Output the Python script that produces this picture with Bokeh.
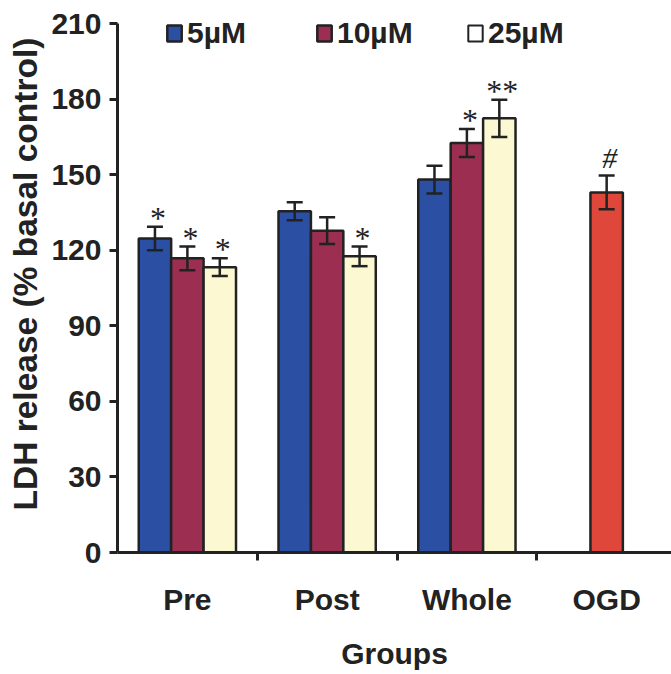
from bokeh.plotting import figure
from bokeh.models import (Range1d, FixedTicker, Whisker, TeeHead, ColumnDataSource,
                          Legend, LegendItem, Title)
from bokeh.core.properties import value
from bokeh.embed import file_html
from bokeh.resources import INLINE

# ---------------- data ----------------
categories = ["Pre", "Post", "Whole", "OGD"]
treated_groups = ["Pre", "Post", "Whole"]
conc_labels = ["5\u00b5M", "10\u00b5M", "25\u00b5M"]

ldh_5uM = [124.7, 135.5, 148.1]
ldh_10uM = [116.8, 127.8, 162.6]
ldh_25uM = [113.3, 117.6, 172.4]
sem_5uM = [4.7, 3.6, 5.5]
sem_10uM = [4.7, 5.3, 5.6]
sem_25uM = [3.5, 3.9, 7.4]
sig_5uM = ["*", "", ""]
sig_10uM = ["*", "", "*"]
sig_25uM = ["*", "*", "**"]

ogd_value = [143.0]
ogd_sem = [6.7]
ogd_sig = ["#"]

y_ticks = [0, 30, 60, 90, 120, 150, 180, 210]
y_title = "LDH release (% basal control)"
x_title = "Groups"

# ---------------- style ----------------
colors = ["#2b4fa3", "#9c2e52", "#fcf8d2"]
legend_colors = ["#2b4fa3", "#9c2e52", "#ffffff"]
ogd_color = "#e0473b"
ink = "#222222"
FONT = "Liberation Sans"
bar_w = 0.232
offsets = [-bar_w, 0.0, bar_w]

p = figure(width=671, height=674, output_backend="svg", toolbar_location=None,
           x_range=Range1d(0, 3.964), y_range=Range1d(0, 218),
           min_border_left=116, min_border_right=0, min_border_top=3,
           min_border_bottom=122)
p.outline_line_color = None
p.xgrid.visible = False
p.ygrid.visible = False
p.background_fill_color = "white"

series = [(ldh_5uM, sem_5uM, sig_5uM), (ldh_10uM, sem_10uM, sig_10uM),
          (ldh_25uM, sem_25uM, sig_25uM)]
bar_renderers = []
for k, (vals, errs, sig) in enumerate(series):
    xs = [categories.index(g) + 0.5 + offsets[k] for g in treated_groups]
    src = ColumnDataSource(dict(x=xs, top=vals,
                                upper=[v + e for v, e in zip(vals, errs)],
                                lower=[v - e for v, e in zip(vals, errs)],
                                sig=sig))
    r = p.vbar(x="x", top="top", bottom=0, width=bar_w, source=src,
               fill_color=colors[k], line_color=ink, line_width=2.5)
    bar_renderers.append(r)
    w = Whisker(source=src, base="x", upper="upper", lower="lower",
                line_color=ink, line_width=2.5, level="annotation",
                upper_head=TeeHead(size=16, line_color=ink, line_width=2.5),
                lower_head=TeeHead(size=16, line_color=ink, line_width=2.5))
    p.add_layout(w)
    p.text(x="x", y="upper", text="sig", source=src, text_align="center",
           text_baseline="alphabetic", x_offset=3, y_offset=-9, text_color=ink,
           text_font=value("Liberation Serif"), text_font_size="32px")

# OGD bar
ogd_src = ColumnDataSource(dict(x=[categories.index("OGD") + 0.5], top=ogd_value,
                                upper=[v + e for v, e in zip(ogd_value, ogd_sem)],
                                lower=[v - e for v, e in zip(ogd_value, ogd_sem)],
                                sig=ogd_sig))
p.vbar(x="x", top="top", bottom=0, width=bar_w, source=ogd_src,
       fill_color=ogd_color, line_color=ink, line_width=2.5)
p.add_layout(Whisker(source=ogd_src, base="x", upper="upper", lower="lower",
                     line_color=ink, line_width=2.5, level="annotation",
                     upper_head=TeeHead(size=16, line_color=ink, line_width=2.5),
                     lower_head=TeeHead(size=16, line_color=ink, line_width=2.5)))
p.text(x="x", y="upper", text="sig", source=ogd_src, text_align="center",
       text_baseline="alphabetic", x_offset=3, y_offset=-18, text_color=ink,
       text_font=value("Liberation Serif"), text_font_style="italic",
       text_font_size="30px")

# legend (25uM swatch is white in the key); key-only renderer holds no point
nan = float("nan")
legend_x = [48, 198, 349]
for k, lab in enumerate(conc_labels):
    if k == 2:
        rr = p.vbar(x=[nan], top=[nan], width=bar_w, fill_color=legend_colors[k],
                    line_color=ink, line_width=2)
    else:
        rr = bar_renderers[k]
    lg = Legend(items=[LegendItem(label=lab, renderers=[rr])],
                location=(legend_x[k], 502), orientation="horizontal",
                background_fill_alpha=0, border_line_alpha=0, padding=0, margin=0,
                glyph_width=18, glyph_height=20, label_standoff=4, label_height=20,
                label_text_font=FONT, label_text_font_style="bold",
                label_text_font_size="30px", label_text_color=ink,
                label_text_baseline="middle")
    p.add_layout(lg)

# axes
yax = p.yaxis[0]
yax.ticker = FixedTicker(ticks=y_ticks, minor_ticks=[])
yax.bounds = (y_ticks[0], y_ticks[-1])
yax.axis_line_width = 3
yax.axis_line_color = ink
yax.major_tick_line_width = 3
yax.major_tick_line_color = ink
yax.major_tick_in = 0
yax.major_tick_out = 8
yax.major_label_standoff = 8
yax.major_label_text_font = FONT
yax.major_label_text_font_style = "bold"
yax.major_label_text_font_size = "30px"
yax.major_label_text_color = ink

ytitle = Title(text=y_title, align="left", offset=42, standoff=9,
               text_font=FONT, text_font_style="bold", text_font_size="33.5px",
               text_color=ink)
p.add_layout(ytitle, "left")

xax = p.xaxis[0]
xax.ticker = FixedTicker(ticks=[i + 0.5 for i in range(len(categories))],
                         minor_ticks=[i for i in range(1, len(categories))])
xax.major_label_overrides = {i + 0.5: c for i, c in enumerate(categories)}
xax.axis_line_width = 3
xax.axis_line_color = ink
xax.major_tick_in = 0
xax.major_tick_out = 0
xax.minor_tick_in = 0
xax.minor_tick_out = 8
xax.minor_tick_line_width = 3
xax.minor_tick_line_color = ink
xax.major_label_standoff = 22
xax.major_label_text_font = FONT
xax.major_label_text_font_style = "bold"
xax.major_label_text_font_size = "30px"
xax.major_label_text_color = ink
xax.axis_label = x_title
xax.axis_label_text_font = FONT
xax.axis_label_text_font_style = "bold"
xax.axis_label_text_font_size = "30px"
xax.axis_label_text_color = ink
xax.axis_label_standoff = 18

open("out.html", "w").write(file_html(p, INLINE))
